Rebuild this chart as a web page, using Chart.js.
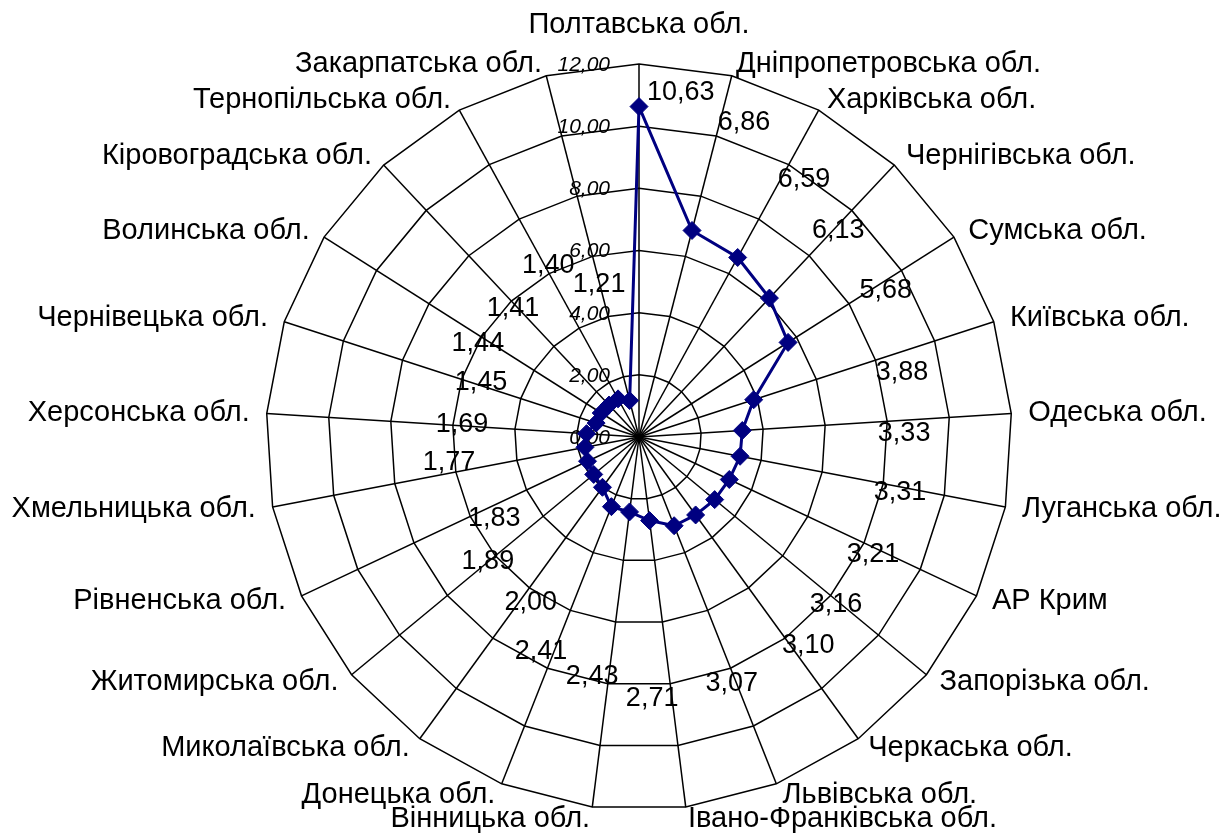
<!DOCTYPE html>
<html>
<head>
<meta charset="utf-8">
<script src="https://cdn.jsdelivr.net/npm/chart.js@4/dist/chart.umd.min.js"></script>
<style>
  html, body { margin: 0; padding: 0; background: #ffffff; }
  #wrap { width: 1223px; height: 835px; }
</style>
</head>
<body>
<div id="wrap"><canvas id="c" width="1223" height="835"></canvas></div>
<script>
// Regions, clockwise from the top spoke
const regions = [
  'Полтавська обл.', 'Дніпропетровська обл.', 'Харківська обл.', 'Чернігівська обл.',
  'Сумська обл.', 'Київська обл.', 'Одеська обл.', 'Луганська обл.', 'АР Крим',
  'Запорізька обл.', 'Черкаська обл.', 'Львівська обл.', 'Івано-Франківська обл.',
  'Вінницька обл.', 'Донецька обл.', 'Миколаївська обл.', 'Житомирська обл.',
  'Рівненська обл.', 'Хмельницька обл.', 'Херсонська обл.', 'Чернівецька обл.',
  'Волинська обл.', 'Кіровоградська обл.', 'Тернопільська обл.', 'Закарпатська обл.'
];

// Value for each region
const shares = [
  10.63, 6.86, 6.59, 6.13, 5.68, 3.88, 3.33, 3.31, 3.21, 3.16, 3.10, 3.07, 2.71,
  2.43, 2.41, 2.00, 1.89, 1.83, 1.77, 1.69, 1.45, 1.44, 1.41, 1.40, 1.21
];

// Radial axis range
const axisMin = 0;
const axisMax = 12;
const axisStep = 2;

// Where each value label sits: [spoke position (fractional index), distance in axis units]
const valueLabelSpots = [
  [0.48, 11.15], [1.28, 10.68], [2.27, 9.83], [3.05, 9.24], [4.12, 9.23],
  [5.30, 8.71], [6.20, 8.53], [7.08, 8.58], [8.10, 8.42], [9.06, 8.33],
  [9.79, 8.65], [11.07, 8.49], [12.30, 8.41], [13.27, 7.84], [14.20, 7.60],
  [14.80, 6.37], [16.00, 6.31], [16.72, 5.34], [18.21, 6.17], [19.02, 5.71],
  [20.06, 5.37], [20.85, 6.00], [21.92, 5.80], [23.06, 6.23], [23.98, 5.06]
];

const FONT = '"Liberation Sans", Arial, sans-serif';
const fmt = v => v.toFixed(2).replace('.', ',');

// Axis numbers: right-aligned, just left of the top spoke
const tickLabelsPlugin = {
  id: 'tickLabels',
  beforeDatasetsDraw(chart) {
    const r = chart.scales.r;
    const ctx = chart.ctx;
    ctx.save();
    ctx.font = 'italic 21px ' + FONT;
    ctx.fillStyle = '#000';
    ctx.textAlign = 'right';
    ctx.textBaseline = 'middle';
    r.ticks.forEach(t => {
      const d = r.getDistanceFromCenterForValue(t.value);
      ctx.fillText(fmt(t.value), r.xCenter - 29, r.yCenter - d + 1);
    });
    ctx.restore();
  }
};

// Region names around the outer ring
const regionLabelsPlugin = {
  id: 'regionLabels',
  afterDraw(chart) {
    const r = chart.scales.r;
    const ctx = chart.ctx;
    ctx.save();
    ctx.font = '29px ' + FONT;
    ctx.fillStyle = '#000';
    ctx.textBaseline = 'middle';
    regions.forEach((name, i) => {
      const p = r.getPointPosition(i, r.drawingArea);
      const a = r.getIndexAngle(i);
      const s = Math.sin(a), c = Math.cos(a);
      let x = p.x + 17 * s;
      let y = p.y - 12 * c;
      let align = s > 0.05 ? 'left' : (s < -0.05 ? 'right' : 'center');
      if (align === 'center' && c > 0) y = p.y - 39;
      ctx.textAlign = align;
      ctx.fillText(name, x, y);
    });
    ctx.restore();
  }
};

// Value labels for the series
const valueLabelsPlugin = {
  id: 'valueLabels',
  afterDatasetsDraw(chart) {
    const r = chart.scales.r;
    const ctx = chart.ctx;
    ctx.save();
    ctx.font = '27px ' + FONT;
    ctx.fillStyle = '#000';
    ctx.textAlign = 'center';
    ctx.textBaseline = 'middle';
    shares.forEach((v, i) => {
      const [idx, dist] = valueLabelSpots[i];
      const p = r.getPointPositionForValue(idx, dist);
      ctx.fillText(fmt(v), p.x, p.y);
    });
    ctx.restore();
  }
};

new Chart(document.getElementById('c'), {
  type: 'radar',
  data: {
    labels: regions,
    datasets: [{
      data: shares,
      borderColor: '#000080',
      backgroundColor: '#000080',
      borderWidth: 3,
      fill: false,
      tension: 0,
      pointStyle: 'rectRot',
      pointRadius: 9,
      pointBorderWidth: 1,
      pointBackgroundColor: '#000080',
      pointBorderColor: '#000080'
    }]
  },
  options: {
    responsive: false,
    animation: false,
    devicePixelRatio: 1,
    layout: { padding: { top: 64, bottom: 25, left: 55, right: 0 } },
    plugins: {
      legend: { display: false },
      tooltip: { enabled: false }
    },
    scales: {
      r: {
        min: axisMin,
        max: axisMax,
        ticks: { stepSize: axisStep, display: false },
        grid: { color: '#000', lineWidth: 1.5 },
        angleLines: { color: '#000', lineWidth: 1.5 },
        pointLabels: { display: false }
      }
    }
  },
  plugins: [tickLabelsPlugin, regionLabelsPlugin, valueLabelsPlugin]
});
</script>
</body>
</html>
